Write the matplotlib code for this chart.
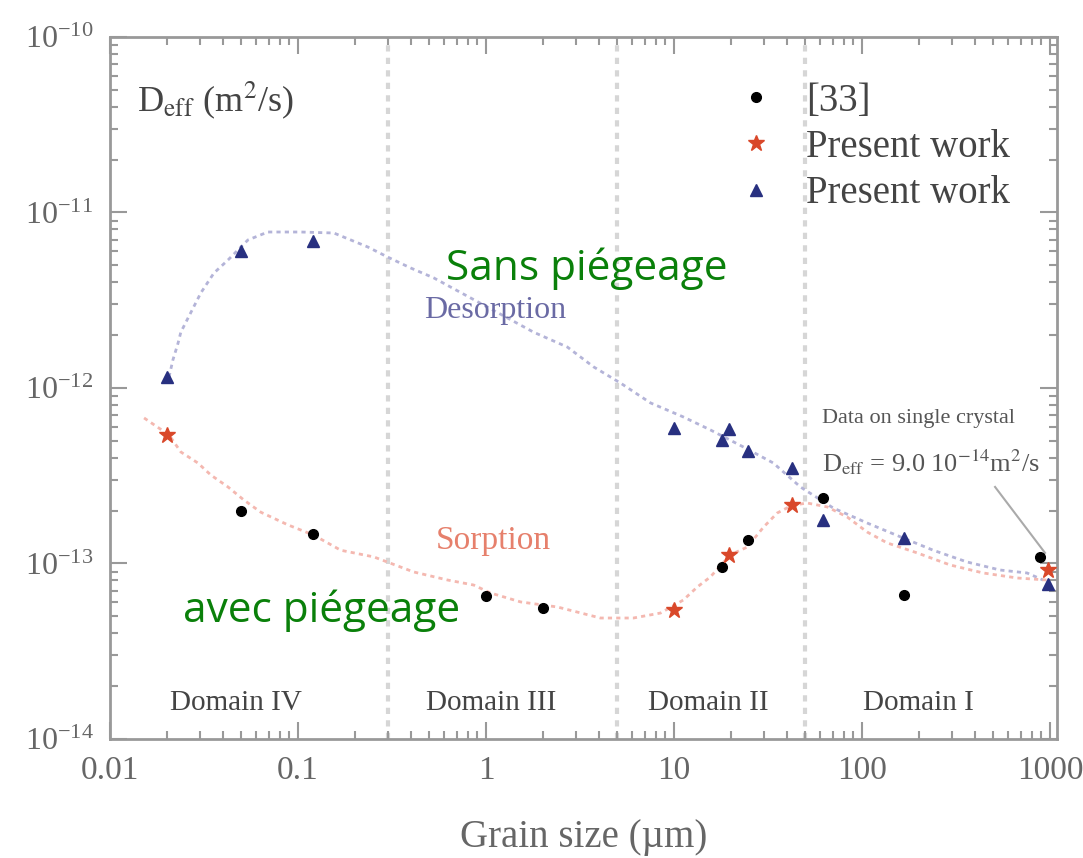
import numpy as np
import matplotlib
matplotlib.use("Agg")
from matplotlib import pyplot as plt
from matplotlib.ticker import LogLocator, NullFormatter

plt.rcParams['font.family'] = ['Liberation Serif', 'DejaVu Serif']
plt.rcParams['mathtext.fontset'] = 'stix'

# --- data ---
# [33] reference data (black dots)
ref_x = [0.05, 0.12, 1.0, 2.0, 18.1, 24.8, 62.2, 167.5, 885]
ref_y = [1.99e-13, 1.47e-13, 6.53e-14, 5.58e-14, 9.55e-14, 1.36e-13, 2.36e-13, 6.62e-14, 1.09e-13]

# present work, sorption (red stars)
sorp_x = [0.02, 10.0, 19.7, 42.6, 975]
sorp_y = [5.40e-13, 5.43e-14, 1.12e-13, 2.15e-13, 9.18e-14]

# present work, desorption (blue triangles)
desorp_x = [0.02, 0.05, 0.12, 10.0, 18.1, 19.5, 24.8, 42.6, 62.2, 167.5, 975]
desorp_y = [1.15e-12, 6.04e-12, 6.88e-12, 5.92e-13, 5.06e-13, 5.84e-13, 4.38e-13,
            3.50e-13, 1.77e-13, 1.40e-13, 7.64e-14]

# guide curves
desorp_curve_x = [0.0206, 0.0216, 0.0230, 0.0238, 0.0304, 0.0357, 0.0424, 0.0541, 0.0691,
                  0.1035, 0.155, 0.235, 0.300, 0.397, 0.527, 1.79, 2.71, 3.73, 5.19, 7.50,
                  11.2, 15.6, 23.4, 33.7, 47.0, 70.3, 106.6, 159.6, 239, 362, 542, 755, 918]
desorp_curve_y = [1.156e-12, 1.445e-12, 1.80e-12, 2.08e-12, 3.48e-12, 4.52e-12, 5.36e-12,
                  6.97e-12, 7.74e-12, 7.74e-12, 7.64e-12, 6.36e-12, 5.57e-12, 4.83e-12,
                  4.24e-12, 2.08e-12, 1.71e-12, 1.32e-12, 1.067e-12, 8.22e-13, 6.84e-13,
                  5.77e-13, 4.61e-13, 3.74e-13, 2.73e-13, 2.07e-13, 1.70e-13, 1.42e-13,
                  1.19e-13, 1.02e-13, 9.18e-14, 8.83e-14, 8.05e-14]

sorp_curve_x = [0.01517, 0.0206, 0.0238, 0.0293, 0.0344, 0.0424, 0.0515, 0.0634, 0.0883,
                0.1213, 0.1687, 0.253, 0.412, 0.625, 0.859, 1.057, 1.527, 2.40, 4.06, 6.08,
                8.47, 11.2, 13.3, 15.6, 19.9, 24.5, 29.9, 35.4, 42.6, 51.2, 65.3, 83.4,
                106.6, 136, 196, 294, 441, 668, 964]
sorp_curve_y = [6.75e-13, 5.40e-13, 4.32e-13, 3.74e-13, 3.19e-13, 2.73e-13, 2.30e-13,
                1.96e-13, 1.66e-13, 1.45e-13, 1.19e-13, 1.09e-13, 8.95e-14, 8.05e-14,
                7.54e-14, 6.79e-14, 6.04e-14, 5.65e-14, 4.89e-14, 4.89e-14, 5.22e-14,
                6.19e-14, 7.35e-14, 8.38e-14, 1.12e-13, 1.24e-13, 1.61e-13, 1.94e-13,
                2.15e-13, 2.21e-13, 2.10e-13, 1.84e-13, 1.51e-13, 1.31e-13, 1.15e-13,
                9.81e-14, 8.83e-14, 8.27e-14, 8.05e-14]

domain_bounds = [0.3, 5, 50]
domain_names = ["Domain IV", "Domain III", "Domain II", "Domain I"]
domain_centers = [0.0467, 1.06, 15.2, 199]

xticks = [0.01, 0.1, 1, 10, 100, 1000]
xtick_labels = ["0.01", "0.1", "1", "10", "100", "1000"]
yticks = [1e-14, 1e-13, 1e-12, 1e-11, 1e-10]

single_crystal_x = [510, 940]
single_crystal_y = [2.73e-13, 1.15e-13]

gray = "#999999"

fig = plt.figure(figsize=(10.83, 8.58), dpi=100)
ax = fig.add_axes([0.1016, 0.1387, 0.8744, 0.8182])
ax.set_xscale("log")
ax.set_yscale("log")

for b in domain_bounds:
    ax.axvline(b, color="#d6d6d6", lw=3, ls=(0, (1.5, 1.5)), zorder=1)

ax.plot(desorp_curve_x, desorp_curve_y, color="#b4b4d8", lw=2, ls=(0, (1.5, 1.5)), zorder=2)
ax.plot(sorp_curve_x, sorp_curve_y, color="#f4b8b0", lw=2, ls=(0, (1.5, 1.5)), zorder=2)

h1, = ax.plot(ref_x, ref_y, "o", color="black", ms=7, ls="none", zorder=4, label="[33]")
h2, = ax.plot(sorp_x, sorp_y, "*", color="#d9482a", ms=12, ls="none", zorder=5, label="Present work")
h3, = ax.plot(desorp_x, desorp_y, "^", color="#283080", ms=9, ls="none", zorder=5, label="Present work")

ax.plot(single_crystal_x, single_crystal_y, color="#aaaaaa", lw=1.5, zorder=3)

ax.legend(handles=[h1, h2, h3], loc="upper left", bbox_to_anchor=(0.645, 0.957),
          frameon=False, fontsize=28, handlelength=1.0, handletextpad=0.8,
          labelspacing=0.24, borderaxespad=0, labelcolor="#444444")

for name, c in zip(domain_names, domain_centers):
    ax.text(c, 1.6e-14, name, ha="center", va="center", fontsize=21, color="#444444")

ax.text(0.0285, 0.91, r"D$_{\mathrm{eff}}$ (m$^2$/s)", transform=ax.transAxes,
        fontsize=26, color="#444444", ha="left", va="center")
ax.text(0.4066, 0.61, "Desorption", transform=ax.transAxes, fontsize=23,
        color="#6a6aa4", ha="center", va="center")
ax.text(0.405, 0.283, "Sorption", transform=ax.transAxes, fontsize=24,
        color="#e6806c", ha="center", va="center")
ax.text(0.752, 0.457, "Data on single crystal", transform=ax.transAxes, fontsize=16,
        color="#555555", ha="left", va="center")
ax.text(0.752, 0.395, r"D$_{\mathrm{eff}}$ = 9.0 10$^{-14}$m$^2$/s", transform=ax.transAxes,
        fontsize=19, color="#555555", ha="left", va="center")

green = "#0a800a"
ax.text(0.503, 0.67, "Sans piégeage", transform=ax.transAxes, fontsize=30.5,
        color=green, family=["Open Sans", "DejaVu Sans"], ha="center", va="center")
ax.text(0.223, 0.183, "avec piégeage", transform=ax.transAxes, fontsize=30.5,
        color=green, family=["Open Sans", "DejaVu Sans"], ha="center", va="center")

ax.set_xticks(xticks)
ax.set_xticklabels(xtick_labels)
ax.set_yticks(yticks)
ax.xaxis.set_minor_locator(LogLocator(base=10, subs=np.arange(2, 10)))
ax.xaxis.set_minor_formatter(NullFormatter())
ax.yaxis.set_minor_locator(LogLocator(base=10, subs=np.arange(2, 10)))
ax.yaxis.set_minor_formatter(NullFormatter())
ax.set_xlim(0.01, 1089)
ax.set_ylim(1e-14, 1e-10)
ax.tick_params(which="both", direction="in", top=True, right=True, colors=gray,
               labelcolor="#666666", width=1.5)
ax.tick_params(which="major", length=12, labelsize=24, pad=12)
ax.tick_params(axis="y", which="major", labelsize=23)
ax.tick_params(which="minor", length=6)
for s in ax.spines.values():
    s.set_color(gray)
    s.set_linewidth(2)

ax.set_xlabel("Grain size (µm)", fontsize=28, color="#666666", labelpad=24)

fig.savefig("out.png", dpi=100)
